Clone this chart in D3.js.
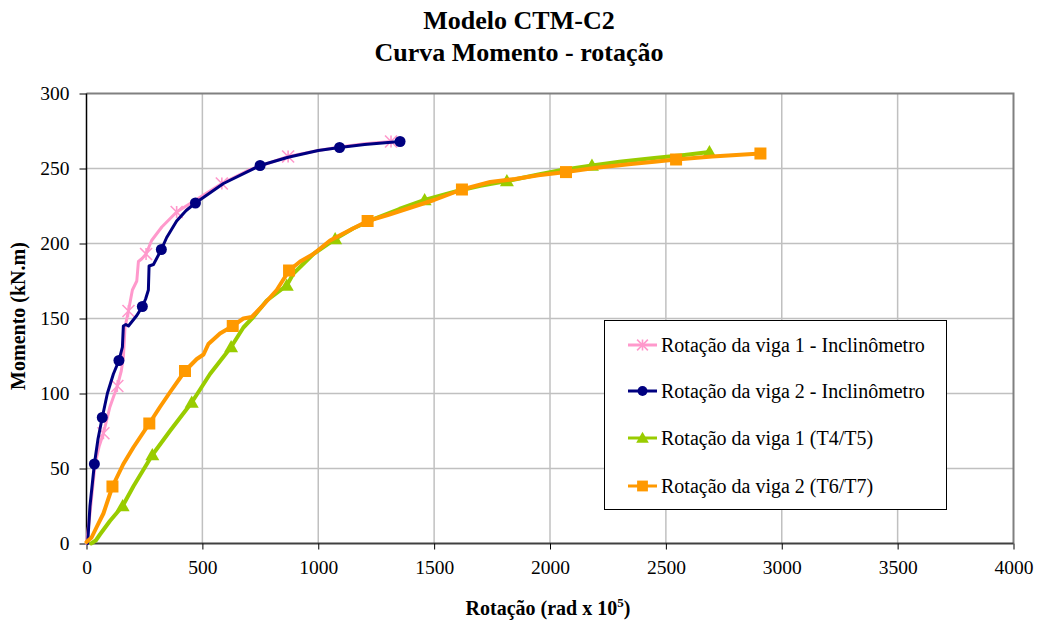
<!DOCTYPE html>
<html>
<head>
<meta charset="utf-8">
<script src="https://cdn.jsdelivr.net/npm/d3@7/dist/d3.min.js"></script>
<style>
  html, body { margin: 0; padding: 0; background: #fff; }
  svg { display: block; }
  text { font-family: "Liberation Serif", "Times New Roman", serif; fill: #000; }
</style>
</head>
<body>
<svg id="chart" width="1039" height="623"></svg>
<script>
// Moment–rotation curves, model CTM-C2 (rotation in rad x 10^5, moment in kN.m)
const titleLines = ["Modelo CTM-C2", "Curva Momento - rotação"];
const xTicks = [0, 500, 1000, 1500, 2000, 2500, 3000, 3500, 4000];
const yTicks = [0, 50, 100, 150, 200, 250, 300];

const seriesNames = [
  "Rotação da viga 1 - Inclinômetro",
  "Rotação da viga 2 - Inclinômetro",
  "Rotação da viga 1 (T4/T5)",
  "Rotação da viga 2 (T6/T7)"
];

// viga 1 - inclinômetro
const viga1Incl = [[0,0],[15,20],[37,53],[55,65],[73,73.5],[101,91],[133,105],[150,115],[159,124],[163,135],[166,144],[181,155],[198,169],[217,175],[224,188],[240,190],[257,193],[281,202],[325,211],[389,221],[461,228],[584,240],[700,249],[870,258],[1000,262],[1100,264.5],[1200,266.5],[1314,268]];
const viga1InclMarks = [[73,73.5],[133,105],[181,155],[257,193],[389,221],[584,240],[870,258],[1314,268]];

// viga 2 - inclinômetro
const viga2Incl = [[5,0],[15,25],[34,53],[50,70],[68,84],[90,100],[116,113],[140,122],[155,131],[159,145],[170,146],[181,145],[217,152],[241,158],[255,163],[267,169],[270,185],[289,186],[323,196],[346,204],[389,215],[430,222],[470,227],[591,240],[749,252],[870,257.5],[1000,262],[1092,264],[1200,266],[1353,268]];
const viga2InclMarks = [[34,53],[68,84],[140,122],[241,158],[323,196],[470,227],[749,252],[1092,264],[1353,268]];

// viga 1 - transdutores T4/T5
const viga1T = [[20,0],[40,2],[58,6],[101,15],[156,25],[202,38],[284,59],[360,75],[454,94],[533,113],[624,131],[677,144],[720,151],[778,162],[864,172],[893,180],[979,193],[1073,203],[1150,210],[1250,217],[1350,223],[1459,229],[1600,235],[1700,238.5],[1814,241.6],[1950,246],[2050,249],[2181,252],[2300,254.5],[2450,257],[2580,259],[2688,261]];
const viga1TMarks = [[156,25],[284,59],[454,94],[624,131],[864,172],[1073,203],[1459,229],[1814,241.6],[2181,252],[2688,261]];

// viga 2 - transdutores T6/T7
const viga2T = [[0,1],[22,4],[44,11],[73,20],[112,38],[159,53],[202,64],[271,80],[317,91],[361,101],[425,115],[476,123],[505,126],[526,133],[576,140],[631,145],[677,150],[713,151],[757,158],[821,169],[874,182],[922,188],[979,193],[1051,202],[1100,206],[1213,215],[1300,219],[1400,224],[1500,229],[1620,236],[1742,241],[1850,243],[1950,245.5],[2069,247.6],[2200,250.5],[2350,253],[2450,254.5],[2544,256],[2700,258],[2908,260]];
const viga2TMarks = [[112,38],[271,80],[425,115],[631,145],[874,182],[1213,215],[1620,236],[2069,247.6],[2544,256],[2908,260]];

const series = [
  { name: seriesNames[0], line: viga1Incl, marks: viga1InclMarks, color: "#FF99CC", width: 3, marker: "star" },
  { name: seriesNames[1], line: viga2Incl, marks: viga2InclMarks, color: "#000080", width: 3, marker: "circle" },
  { name: seriesNames[2], line: viga1T, marks: viga1TMarks, color: "#99CC00", width: 4, marker: "triangle" },
  { name: seriesNames[3], line: viga2T, marks: viga2TMarks, color: "#FF9900", width: 4, marker: "square" }
];

const FONT = '"Liberation Serif", "Times New Roman", serif';
const svg = d3.select("#chart");
const plot = { left: 86.5, right: 1013.5, top: 93.5, bottom: 543.5 };

const x = d3.scaleLinear().domain([0, 4000]).range([plot.left, plot.right]);
const y = d3.scaleLinear().domain([0, 300]).range([plot.bottom, plot.top]);

// title
svg.append("g").selectAll("text").data(titleLines).join("text")
  .attr("x", 519).attr("y", (d, i) => 29 + i * 32)
  .attr("text-anchor", "middle")
  .style("font-family", FONT)
  .style("font-size", "26px").style("font-weight", "bold")
  .text(d => d);

// gridlines
const grid = svg.append("g");
grid.selectAll("line.v").data(xTicks.slice(1, -1)).join("line")
  .attr("x1", d => x(d)).attr("x2", d => x(d))
  .attr("y1", plot.top).attr("y2", plot.bottom)
  .attr("stroke", "#c0c0c0").attr("stroke-width", 1.5);
grid.selectAll("line.h").data(yTicks.slice(1, -1)).join("line")
  .attr("x1", plot.left).attr("x2", plot.right)
  .attr("y1", d => y(d)).attr("y2", d => y(d))
  .attr("stroke", "#c0c0c0").attr("stroke-width", 1.5);

// plot-area frame (top and right)
svg.append("path")
  .attr("d", `M${plot.left},${plot.top}H${plot.right}V${plot.bottom}`)
  .attr("fill", "none").attr("stroke", "#808080").attr("stroke-width", 2);

// axes
const xAxis = d3.axisBottom(x).tickValues(xTicks).tickSize(6).tickPadding(11).tickFormat(d3.format("d"));
const yAxis = d3.axisLeft(y).tickValues(yTicks).tickSize(7).tickPadding(10).tickFormat(d3.format("d"));

const gx = svg.append("g").attr("transform", `translate(0,${plot.bottom})`).call(xAxis).attr("font-family", FONT);
gx.select(".domain").attr("stroke", "#404040").attr("stroke-width", 2).attr("d", `M${plot.left},0H${plot.right}`);
gx.selectAll(".tick line").attr("stroke", "#000");
gx.selectAll(".tick text").style("font-size", "19.5px").style("font-family", FONT).attr("fill", "#000");

const gy = svg.append("g").attr("transform", `translate(${plot.left},0)`).call(yAxis).attr("font-family", FONT);
gy.select(".domain").attr("stroke", "#000").attr("stroke-width", 1.5).attr("d", `M0,${plot.top}V${plot.bottom}`);
gy.selectAll(".tick line").attr("stroke", "#000");
gy.selectAll(".tick text").style("font-size", "19.5px").style("font-family", FONT).attr("fill", "#000");

// axis titles
const xt = svg.append("text").attr("x", 548).attr("y", 615).attr("text-anchor", "middle")
  .style("font-family", FONT).style("font-size", "20px").style("font-weight", "bold");
xt.append("tspan").text("Rotação (rad x 10");
xt.append("tspan").attr("dy", -8).style("font-size", "13px").text("5");
xt.append("tspan").attr("dy", 8).text(")");

svg.append("text").attr("transform", "translate(25,316) rotate(-90)")
  .attr("text-anchor", "middle").style("font-family", FONT).style("font-size", "20px").style("font-weight", "bold")
  .text("Momento (kN.m)");

// marker shapes
function drawMarker(g, type, color, cx, cy, scale) {
  const s = scale || 1;
  if (type === "circle") {
    g.append("circle").attr("cx", cx).attr("cy", cy).attr("r", 5.5 * s).attr("fill", color);
  } else if (type === "square") {
    const h = 6 * s;
    g.append("rect").attr("x", cx - h).attr("y", cy - h).attr("width", 2 * h).attr("height", 2 * h).attr("fill", color);
  } else if (type === "triangle") {
    const h = 7 * s;
    g.append("path").attr("d", `M${cx},${cy - h}L${cx + h},${cy + h * 0.75}L${cx - h},${cy + h * 0.75}Z`).attr("fill", color);
  } else if (type === "star") {
    const h = 6 * s;
    g.append("path")
      .attr("d", `M${cx},${cy - h}V${cy + h}M${cx - h},${cy - h}L${cx + h},${cy + h}M${cx - h},${cy + h}L${cx + h},${cy - h}`)
      .attr("stroke", color).attr("stroke-width", 1.6).attr("fill", "none");
  }
}

// curves
const line = d3.line().x(d => x(d[0])).y(d => y(d[1]));
const curves = svg.append("g");
series.forEach(s => {
  const g = curves.append("g");
  g.append("path").datum(s.line).attr("d", line)
    .attr("fill", "none").attr("stroke", s.color).attr("stroke-width", s.width)
    .attr("stroke-linejoin", "round").attr("stroke-linecap", "round");
  s.marks.forEach(p => drawMarker(g, s.marker, s.color, x(p[0]), y(p[1])));
});

// legend
const legend = svg.append("g");
legend.append("rect").attr("x", 604.5).attr("y", 320.5).attr("width", 342).attr("height", 189)
  .attr("fill", "#fff").attr("stroke", "#000").attr("stroke-width", 1);
const rowsY = [345, 391, 438, 486];
series.forEach((s, i) => {
  const g = legend.append("g");
  g.append("line").attr("x1", 628).attr("x2", 657).attr("y1", rowsY[i]).attr("y2", rowsY[i])
    .attr("stroke", s.color).attr("stroke-width", 3);
  drawMarker(g, s.marker, s.color, 642.5, rowsY[i], 0.9);
  g.append("text").attr("x", 661).attr("y", rowsY[i] + 6.5)
    .style("font-family", FONT).style("font-size", "20px").text(s.name);
});
</script>
</body>
</html>
